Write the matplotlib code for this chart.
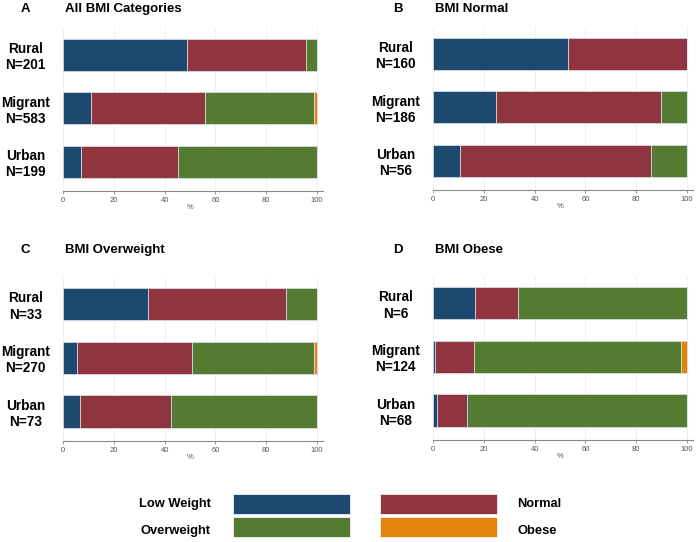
import matplotlib
matplotlib.use('Agg')
import matplotlib.pyplot as plt
from matplotlib.patches import Rectangle

plt.rcParams['font.family'] = ['Liberation Sans', 'DejaVu Sans']

categories = ['Low Weight', 'Normal', 'Overweight', 'Obese']
colors = ['#1d4870', '#8e353f', '#557a31', '#e5820a']

groups = ['Rural', 'Migrant', 'Urban']

# panel titles and N per group
letters = ['A', 'B', 'C', 'D']
titles = ['All BMI Categories', 'BMI Normal', 'BMI Overweight', 'BMI Obese']
n_A = [201, 583, 199]
n_B = [160, 186, 56]
n_C = [33, 270, 73]
n_D = [6, 124, 68]

# percentages per group: Low Weight, Normal, Overweight, Obese
low_A = [48.8, 11.2, 7.1]
norm_A = [46.9, 44.8, 38.1]
over_A = [4.3, 42.8, 54.8]
obese_A = [0, 1.2, 0]

low_B = [53.0, 24.7, 10.6]
norm_B = [47.0, 65.1, 75.2]
over_B = [0, 10.2, 14.2]
obese_B = [0, 0, 0]

low_C = [33.3, 5.5, 6.7]
norm_C = [54.5, 45.3, 35.7]
over_C = [12.2, 48.0, 57.6]
obese_C = [0, 1.2, 0]

low_D = [16.7, 0.8, 1.5]
norm_D = [16.7, 15.3, 11.8]
over_D = [66.6, 81.5, 86.7]
obese_D = [0, 2.4, 0]

panels = [
    (n_A, [low_A, norm_A, over_A, obese_A]),
    (n_B, [low_B, norm_B, over_B, obese_B]),
    (n_C, [low_C, norm_C, over_C, obese_C]),
    (n_D, [low_D, norm_D, over_D, obese_D]),
]

W, H = 697, 542
fig = plt.figure(figsize=(W / 100, H / 100), dpi=100)

# pixel boxes: (left, top, bottom) of each axes; width covers 0..102.4
boxes = [(63, 28, 191), (433, 27, 190), (63, 277, 441), (433, 276, 440)]
unit = 254 / 100.0

for i, (ns, series) in enumerate(panels):
    left, top, bottom = boxes[i]
    width = unit * 102.4
    ax = fig.add_axes([left / W, 1 - bottom / H, width / W, (bottom - top) / H])
    pos = list(range(len(groups)))
    start = [0.0] * len(groups)
    for vals, col in zip(series, colors):
        ax.barh(pos, vals, left=start, height=0.6, color=col,
                edgecolor='#dbe5ec', linewidth=0.5)
        start = [s + v for s, v in zip(start, vals)]
    ax.set_xlim(0, 102.4)
    ax.set_ylim(2.55, -0.5)
    ax.set_xticks([0, 20, 40, 60, 80, 100])
    ax.set_yticks(pos)
    ax.set_yticklabels([g + '\nN=' + str(n) for g, n in zip(groups, ns)],
                       ha='center', fontsize=9.8, fontweight='bold',
                       linespacing=1.2)
    ax.tick_params(axis='y', length=0, pad=27)
    ax.tick_params(axis='x', length=2.5, width=0.6, color='#888888',
                   labelsize=5.5, labelcolor='#555555', pad=2)
    ax.grid(axis='x', color='#eeeeee', linewidth=0.6)
    ax.set_axisbelow(True)
    for s in ['top', 'right', 'left']:
        ax.spines[s].set_visible(False)
    ax.spines['bottom'].set_color('#888888')
    ax.spines['bottom'].set_linewidth(0.8)
    ax.set_xlabel('%', fontsize=5.5, color='#555555', labelpad=-1)
    ax.xaxis.set_label_coords(50 / 102.4, -0.08)

    ty = 9 if i < 2 else 250
    lx = 25 if i % 2 == 0 else 398
    fig.text(lx / W, 1 - ty / H, letters[i], fontsize=9.5, fontweight='bold',
             ha='center', va='center')
    fig.text((left + 2) / W, 1 - ty / H, titles[i], fontsize=9.5,
             fontweight='bold', ha='left', va='center')

# legend drawn as figure patches
leg_boxes = [(233, 494), (380, 494), (233, 517), (380, 517)]
for (bx, by), col in zip(leg_boxes, colors):
    fig.patches.append(Rectangle((bx / W, 1 - (by + 20) / H), 117 / W, 20 / H,
                                 transform=fig.transFigure, facecolor=col,
                                 edgecolor='white', linewidth=0.5))
fig.text(175 / W, 1 - 504 / H, categories[0], fontsize=9.3, fontweight='bold',
         ha='center', va='center')
fig.text(517 / W, 1 - 504 / H, categories[1], fontsize=9.3, fontweight='bold',
         ha='left', va='center')
fig.text(175 / W, 1 - 531 / H, categories[2], fontsize=9.3, fontweight='bold',
         ha='center', va='center')
fig.text(517 / W, 1 - 531 / H, categories[3], fontsize=9.3, fontweight='bold',
         ha='left', va='center')

fig.savefig('out.png', dpi=100)
